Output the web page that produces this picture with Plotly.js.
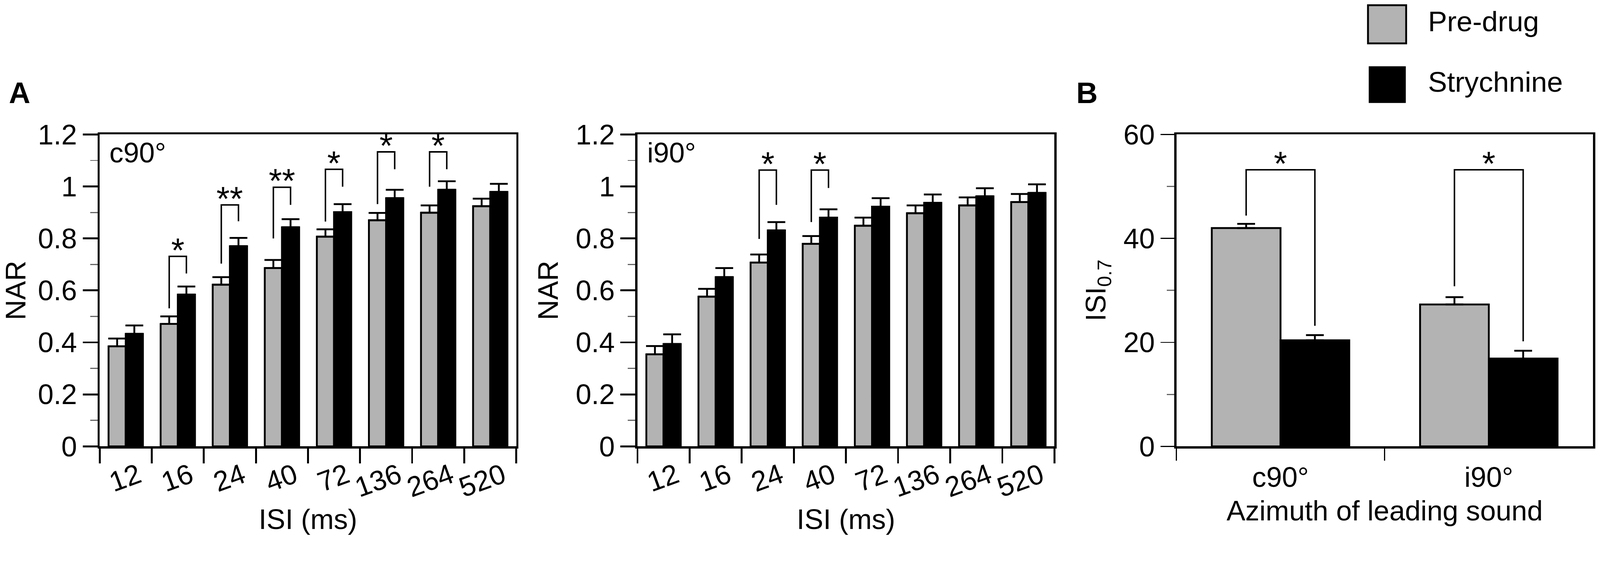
<!DOCTYPE html>
<html>
<head>
<meta charset="utf-8">
<script src="https://cdn.plot.ly/plotly-3.0.1.min.js"></script>
<style>html,body{margin:0;padding:0;background:#fff;overflow:hidden;}</style>
</head>
<body>
<div id="chart" style="width:4317px;height:1460px;"></div>
<script>
// ---- data ----
var isi = ['12', '16', '24', '40', '72', '136', '264', '520'];
var seriesNames = ['Pre-drug', 'Strychnine'];

// panel A, leading sound at c90°
var c90Pre     = [0.385, 0.471, 0.622, 0.686, 0.807, 0.870, 0.899, 0.924];
var c90PreErr  = [0.030, 0.029, 0.029, 0.031, 0.028, 0.028, 0.028, 0.029];
var c90Str     = [0.433, 0.584, 0.770, 0.843, 0.901, 0.955, 0.987, 0.979];
var c90StrErr  = [0.032, 0.031, 0.032, 0.031, 0.031, 0.032, 0.033, 0.031];

// panel A, leading sound at i90°
var i90Pre     = [0.354, 0.576, 0.707, 0.779, 0.849, 0.897, 0.927, 0.940];
var i90PreErr  = [0.032, 0.030, 0.031, 0.030, 0.031, 0.030, 0.031, 0.031];
var i90Str     = [0.394, 0.651, 0.831, 0.880, 0.922, 0.937, 0.962, 0.975];
var i90StrErr  = [0.037, 0.035, 0.032, 0.032, 0.033, 0.032, 0.031, 0.033];

// panel B
var azimuth     = ['c90°', 'i90°'];
var isi07Pre    = [42.0, 27.3];
var isi07PreErr = [0.8, 1.4];
var isi07Str    = [20.4, 16.9];
var isi07StrErr = [1.0, 1.5];

// significance brackets: category index, left leg bottom, top, right leg bottom, label
var sigC90Idx   = [1, 2, 3, 4, 5, 6];
var sigC90Left  = [0.531, 0.703, 0.800, 0.865, 0.932, 0.999];
var sigC90Top   = [0.731, 0.929, 0.997, 1.066, 1.133, 1.133];
var sigC90Right = [0.665, 0.866, 0.929, 0.999, 1.066, 1.066];
var sigC90Text  = ['*', '**', '**', '*', '*', '*'];

var sigI90Idx   = [2, 3];
var sigI90Left  = [0.798, 0.863];
var sigI90Top   = [1.063, 1.063];
var sigI90Right = [0.929, 0.994];
var sigI90Text  = ['*', '*'];

var sigBIdx   = [0, 1];
var sigBLeft  = [44.4, 30.8];
var sigBTop   = [53.2, 53.2];
var sigBRight = [23.2, 20.2];
var sigBText  = ['*', '*'];

// ---- layout helpers ----
var W = 4317, H = 1460;
var FONT = 'Liberation Sans, Arial, Helvetica, sans-serif';
var GRAY = '#b3b3b3';
var BARGAP = 0.34;
var half = (1 - BARGAP) / 4;   // offset of each bar centre from the category centre

function px(x) { return x / W; }
function py(y) { return 1 - y / H; }

var yDom = [py(1205), py(363)];
var xDomA1 = [px(269), px(1393)];
var xDomA2 = [px(1720), px(2845)];
var xDomB  = [px(3174), px(4298)];

function zeros(a) { return a.map(function() { return 0; }); }

function barPair(x, pre, preErr, str, strErr, xa, ya) {
  var err = function(arr) {
    return {type: 'data', symmetric: false, array: arr, arrayminus: zeros(arr),
            color: '#000', thickness: 5, width: 24};
  };
  return [
    {type: 'bar', x: x, y: pre, name: seriesNames[0], xaxis: xa, yaxis: ya,
     marker: {color: GRAY, line: {color: '#000', width: 5}},
     error_y: err(preErr), showlegend: false, hoverinfo: 'x+y'},
    {type: 'bar', x: x, y: str, name: seriesNames[1], xaxis: xa, yaxis: ya,
     marker: {color: '#000', line: {color: '#000', width: 5}},
     error_y: err(strErr), showlegend: false, hoverinfo: 'x+y'}
  ];
}

var data = []
  .concat(barPair(isi, c90Pre, c90PreErr, c90Str, c90StrErr, 'x', 'y'))
  .concat(barPair(isi, i90Pre, i90PreErr, i90Str, i90StrErr, 'x2', 'y2'))
  .concat(barPair(azimuth, isi07Pre, isi07PreErr, isi07Str, isi07StrErr, 'x3', 'y3'));

function xAxis(dom, anchor, opts) {
  var ax = {
    domain: dom, anchor: anchor, type: 'category',
    showline: true, mirror: true, linecolor: '#000', linewidth: 6,
    ticks: 'outside', tickson: 'boundaries', ticklen: 40, tickwidth: 5, tickcolor: '#000',
    tickangle: -20, ticklabelshift: 34, tickfont: {family: FONT, size: 76, color: '#000'},
    showgrid: false, zeroline: false, fixedrange: true
  };
  return Object.assign(ax, opts);
}
function yAxis(dom, anchor, opts) {
  var ax = {
    domain: dom, anchor: anchor,
    showline: true, mirror: true, linecolor: '#000', linewidth: 6,
    ticks: 'outside', ticklen: 40, tickwidth: 5, tickcolor: '#000',
    tickfont: {family: FONT, size: 76, color: '#000'},
    showgrid: false, zeroline: false, fixedrange: true
  };
  return Object.assign(ax, opts);
}

var titleFont = {family: FONT, size: 76, color: '#000'};

var layout = {
  width: W, height: H,
  margin: {l: 0, r: 0, t: 0, b: 0, pad: 0},
  paper_bgcolor: '#fff', plot_bgcolor: '#fff',
  barmode: 'group', bargap: BARGAP, bargroupgap: 0,
  showlegend: false,
  font: {family: FONT, color: '#000'},
  xaxis: xAxis(xDomA1, 'y', {title: {text: 'ISI (ms)', font: titleFont, standoff: 20}}),
  yaxis: yAxis(yDom, 'x', {range: [0, 1.2], tick0: 0, dtick: 0.2,
    minor: {dtick: 0.1, ticks: 'outside', ticklen: 20, tickwidth: 3, tickcolor: '#666'},
    title: {text: 'NAR', font: titleFont, standoff: 25}}),
  xaxis2: xAxis(xDomA2, 'y2', {title: {text: 'ISI (ms)', font: titleFont, standoff: 20}}),
  yaxis2: yAxis(yDom, 'x2', {range: [0, 1.2], tick0: 0, dtick: 0.2,
    minor: {dtick: 0.1, ticks: 'outside', ticklen: 20, tickwidth: 3, tickcolor: '#666'},
    title: {text: 'NAR', font: titleFont, standoff: 25}}),
  xaxis3: xAxis(xDomB, 'y3', {tickangle: 0, ticklabelshift: 0, ticklabelstandoff: 12,
    ticklen: 33, tickwidth: 3,
    title: {text: 'Azimuth of leading sound', font: titleFont, standoff: 25}}),
  yaxis3: yAxis(yDom, 'x3', {range: [0, 60], tick0: 0, dtick: 20, ticklen: 37, tickwidth: 3,
    minor: {dtick: 10, ticks: 'outside', ticklen: 20, tickwidth: 3, tickcolor: '#666'},
    title: {text: 'ISI<sub>0.7</sub>', font: titleFont, standoff: 25}}),
  shapes: [],
  annotations: []
};

// significance brackets and stars
function addSig(xa, ya, idx, left, top, right, text) {
  for (var i = 0; i < idx.length; i++) {
    var xl = idx[i] - half, xr = idx[i] + half;
    layout.shapes.push({
      type: 'path', xref: xa, yref: ya,
      path: 'M' + xl + ',' + left[i] + ' L' + xl + ',' + top[i] +
            ' L' + xr + ',' + top[i] + ' L' + xr + ',' + right[i],
      line: {color: '#000', width: 4}
    });
    layout.annotations.push({
      xref: xa, yref: ya, x: idx[i], y: top[i], xanchor: 'center', yanchor: 'bottom',
      yshift: -36, text: text[i], showarrow: false,
      font: {family: FONT, size: 92, color: '#000'}
    });
  }
}
addSig('x', 'y', sigC90Idx, sigC90Left, sigC90Top, sigC90Right, sigC90Text);
addSig('x2', 'y2', sigI90Idx, sigI90Left, sigI90Top, sigI90Right, sigI90Text);
addSig('x3', 'y3', sigBIdx, sigBLeft, sigBTop, sigBRight, sigBText);

// condition labels inside panel A plots
layout.annotations.push(
  {xref: 'x domain', yref: 'y domain', x: 0.021, y: 0.995, xanchor: 'left', yanchor: 'top',
   text: azimuth[0], showarrow: false, font: {family: FONT, size: 76, color: '#000'}},
  {xref: 'x2 domain', yref: 'y2 domain', x: 0.021, y: 0.995, xanchor: 'left', yanchor: 'top',
   text: azimuth[1], showarrow: false, font: {family: FONT, size: 76, color: '#000'}}
);

// panel letters
layout.annotations.push(
  {xref: 'paper', yref: 'paper', x: px(22), y: py(204), xanchor: 'left', yanchor: 'top',
   text: '<b>A</b>', showarrow: false, font: {family: FONT, size: 80, color: '#000'}},
  {xref: 'paper', yref: 'paper', x: px(2902), y: py(204), xanchor: 'left', yanchor: 'top',
   text: '<b>B</b>', showarrow: false, font: {family: FONT, size: 80, color: '#000'}}
);

// legend (drawn by hand so the swatches can be large)
layout.shapes.push(
  {type: 'rect', xref: 'paper', yref: 'paper', x0: px(3691), x1: px(3794), y0: py(117), y1: py(14),
   fillcolor: GRAY, line: {color: '#000', width: 5}},
  {type: 'rect', xref: 'paper', yref: 'paper', x0: px(3694), x1: px(3792), y0: py(277), y1: py(180),
   fillcolor: '#000', line: {color: '#000', width: 2}}
);
layout.annotations.push(
  {xref: 'paper', yref: 'paper', x: px(3851), y: py(12), xanchor: 'left', yanchor: 'top',
   text: seriesNames[0], showarrow: false, font: {family: FONT, size: 77, color: '#000'}},
  {xref: 'paper', yref: 'paper', x: px(3851), y: py(176), xanchor: 'left', yanchor: 'top',
   text: seriesNames[1], showarrow: false, font: {family: FONT, size: 77, color: '#000'}}
);

// fit the fixed-size figure into the actual viewport
var div = document.getElementById('chart');
var fit = Math.min(window.innerWidth / W, window.innerHeight / H);
if (fit > 0 && fit < 1) {
  div.style.transformOrigin = '0 0';
  div.style.transform = 'scale(' + fit + ')';
}

Plotly.newPlot('chart', data, layout, {displayModeBar: false, staticPlot: true});
</script>
</body>
</html>
